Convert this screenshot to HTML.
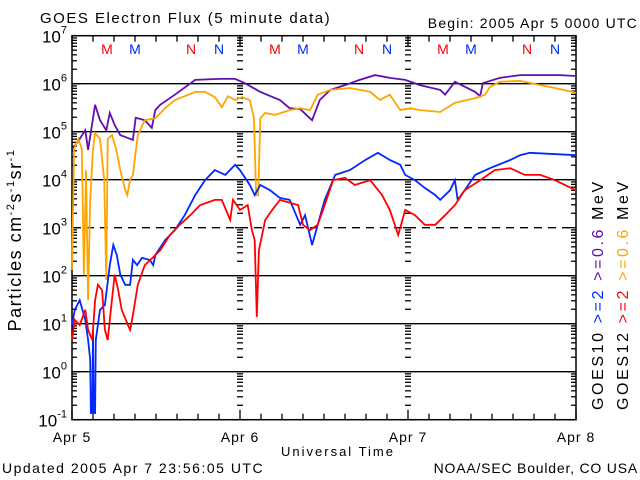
<!DOCTYPE html>
<html><head><meta charset="utf-8"><style>
body{margin:0;background:#fff}
svg{display:block;font-family:"Liberation Sans",sans-serif}
</style></head><body>
<svg id="c" width="640" height="480" viewBox="0 0 640 480">
<text x="40" y="23" font-size="15" letter-spacing="1.5">GOES Electron Flux (5 minute data)</text>
<text x="638" y="28" font-size="14" letter-spacing="1.2" text-anchor="end">Begin: 2005 Apr 5 0000 UTC</text>
<text x="338" y="456" font-size="13" letter-spacing="2" text-anchor="middle">Universal Time</text>
<text x="2" y="473" font-size="14" letter-spacing="1.5">Updated 2005 Apr  7 23:56:05 UTC</text>
<text x="638" y="473" font-size="14" letter-spacing="0.8" text-anchor="end">NOAA/SEC Boulder, CO USA</text>
<text transform="translate(21,240) rotate(-90)" font-size="18" letter-spacing="1.5" text-anchor="middle">Particles cm<tspan dy="-7" font-size="11">-2</tspan><tspan dy="7">s</tspan><tspan dy="-7" font-size="11">-1</tspan><tspan dy="7">sr</tspan><tspan dy="-7" font-size="11">-1</tspan></text>
<text transform="translate(603,410) rotate(-90)" font-size="16" letter-spacing="2.6">GOES10 <tspan fill="#0028ff">&gt;=2</tspan> <tspan fill="#6010b0">&gt;=0.6</tspan> MeV</text>
<text transform="translate(628,410) rotate(-90)" font-size="16" letter-spacing="2.6">GOES12 <tspan fill="#ff0000">&gt;=2</tspan> <tspan fill="#ffa500">&gt;=0.6</tspan> MeV</text>
<g id="axes"></g>
<g id="series"></g>
</svg>
<script>
const dayLabels=["Apr 5","Apr 6","Apr 7","Apr 8"];
const decades=[-1,0,1,2,3,4,5,6,7];
const markerLabels=["M","M","N","N"];
const markerHours=[5,9,17,21];
const g10LowT=[0.1,1.1,1.9,2.3,3.3,4.0,4.9,5.4,6.1,6.9,8.7,9.1,10.4,11.4,11.9,12.6,14.7,17.6,21.1,23.3,24.7,26.9,29.7,31.1,32.6,34.0,34.3,35.4,36.9,39.0,41.1,43.3,45.4,47.6,49.7,52.6,53.3,54.7,57.6,58.3,58.7,61.1,64.0,69.7,72];
const g10LowV=[4.64,4.85,5.03,4.62,5.56,5.24,5.03,5.39,5.14,4.93,4.83,5.29,5.24,5.08,5.45,5.56,5.77,6.08,6.10,6.10,6.01,5.83,5.66,5.49,5.47,5.28,5.24,5.66,5.87,5.97,6.08,6.18,6.12,6.08,5.97,5.87,5.77,6.04,5.83,5.74,6.01,6.12,6.18,6.18,6.16];
const g12LowT=[0,0.3,0.9,1.4,1.7,2.0,2.3,2.6,3.0,3.3,4.0,4.6,4.9,5.1,5.7,6.3,6.9,7.6,7.9,8.3,8.7,9.4,10.4,11.9,13.3,14.7,16.1,17.6,19.0,20.4,21.4,22.3,23.3,24.3,25.4,26.0,26.3,26.6,26.9,27.6,29.0,31.1,32.6,34.0,35.1,36.9,39.7,42.6,44.0,45.4,46.9,48.3,49.7,52.6,54.7,57.6,59.0,59.7,61.1,64.0,66.9,69.0,72];
const g12LowV=[2.12,4.64,4.85,4.64,2.02,4.20,1.49,3.58,4.64,4.97,4.85,4.0,1.91,4.85,4.93,4.64,4.20,3.79,3.68,4.0,4.10,4.93,5.24,5.28,5.49,5.66,5.74,5.83,5.83,5.72,5.51,5.74,5.66,5.72,5.66,5.28,3.68,3.68,5.28,5.39,5.35,5.45,5.49,5.45,5.77,5.87,5.91,5.83,5.66,5.77,5.45,5.49,5.45,5.41,5.60,5.70,5.77,5.93,6.04,6.06,5.97,5.91,5.81];
const g10HighT=[0,0.4,1.1,1.9,2.3,2.6,2.7,2.9,3.0,3.1,3.3,3.4,4.0,4.7,5.4,5.9,6.4,6.9,7.6,8.3,8.7,9.3,10.0,11.1,11.6,11.9,13.3,14.7,16.1,17.6,19.0,20.4,21.9,23.3,24.0,25.4,26.1,26.9,28.3,29.7,31.1,32.6,33.3,34.3,35.1,36.1,37.6,39.7,41.9,43.7,45.4,46.9,47.6,49.0,50.4,51.9,52.6,54.0,54.7,55.1,56.1,57.6,59.7,62.6,64.0,65.4,72];
const g10HighV=[0.97,1.29,1.49,1.08,0.66,0.25,-0.86,-0.86,0.87,-0.86,-0.86,0.66,1.29,1.39,2.22,2.64,2.43,2.02,1.81,1.81,2.33,2.22,2.37,2.33,2.22,2.43,2.74,2.95,3.26,3.68,3.99,4.20,4.10,4.31,4.20,3.89,3.68,3.89,3.78,3.62,3.58,3.06,3.26,2.64,3.06,3.58,4.10,4.20,4.41,4.56,4.41,4.31,4.10,3.99,3.83,3.68,3.58,3.78,3.99,3.58,3.78,4.10,4.24,4.41,4.51,4.56,4.51];
const g12HighT=[0,0.4,1.1,1.9,2.3,2.9,3.3,3.7,4.3,4.7,5.1,5.7,6.1,6.6,7.1,8.0,8.3,8.7,9.4,10.4,11.9,12.6,14.0,15.4,16.9,18.3,20.4,21.4,22.6,23.0,24.0,25.1,25.7,26.1,26.4,26.7,27.6,28.6,29.7,32.3,33.0,34.0,35.1,36.1,37.3,39.0,40.4,42.6,44.3,45.4,46.6,47.6,49.0,50.4,51.9,53.3,54.7,56.1,58.3,60.4,62.6,64.7,66.9,69.0,72];
const g12HighV=[0.66,1.08,0.97,1.29,0.87,0.66,1.49,1.81,1.70,0.87,0.66,1.49,2.02,1.70,1.29,0.97,0.87,1.18,1.81,2.22,2.43,2.53,2.85,3.06,3.26,3.47,3.58,3.58,3.16,3.58,3.37,3.47,2.95,2.74,1.14,2.53,3.16,3.37,3.58,3.47,3.06,2.95,3.06,3.47,3.99,4.04,3.89,3.99,3.68,3.37,2.85,3.37,3.26,3.06,3.06,3.26,3.47,3.78,3.99,4.20,4.24,4.10,4.10,3.99,3.78];

const L=72,R=576,T=35.7,B=419.7;
const xs=h=>L+h*(R-L)/72;
const ys=v=>T+(7-v)*(B-T)/8;
const NS="http://www.w3.org/2000/svg";
const ax=document.getElementById('axes'), se=document.getElementById('series');
function mk(tag,attrs,parent){const e=document.createElementNS(NS,tag);for(const k in attrs)e.setAttribute(k,attrs[k]);parent.appendChild(e);return e;}
function line(x1,y1,x2,y2,p,extra){return mk('line',Object.assign({x1,y1,x2,y2,stroke:'#000','stroke-width':1.3},extra||{}),p);}
const fr=mk('rect',{x:L,y:T,width:R-L,height:B-T,fill:'none',stroke:'#000','stroke-width':1.5},ax);


decades.forEach(d=>{
  const y=ys(d);
  if(d>-1&&d<7){
    const gl=line(L,y,R,y,ax,d===3?{'stroke-dasharray':'8,6'}:{});
    
    
  }
  const t=mk('text',{x:L-5,y:y+7,'font-size':17,'text-anchor':'end'},ax);
  
  
  t.innerHTML='10<tspan dy="-9" font-size="11">'+d+'</tspan>';
  line(L,y,L+9,y,ax);line(R-9,y,R,y,ax);
  if(d<7){for(let m=2;m<10;m++){const yy=ys(d+Math.log10(m));
    line(L,yy,L+5,yy,ax);line(R-5,yy,R,yy,ax);
    [1,2].forEach(k=>line(xs(24*k)-3,yy,xs(24*k)+3,yy,ax));}}
  [1,2].forEach(k=>line(xs(24*k)-5,y,xs(24*k)+5,y,ax));
});
for(let h=0;h<=72;h+=3){const x=xs(h),len=h%24===0?10:6;line(x,B,x,B-len,ax);line(x,T,x,T+len,ax);}
dayLabels.forEach((s,i)=>{const t=mk('text',{x:xs(24*i),y:442,'font-size':14,'letter-spacing':1,'text-anchor':'middle'},ax);
  
  
  t.textContent=s;});
const mcol=['#ff0000','#0028ff','#ff0000','#0028ff'];
for(let day=0;day<3;day++)markerLabels.forEach((s,i)=>{
  const t=mk('text',{x:xs(day*24+markerHours[i]),y:54,'font-size':14,'text-anchor':'middle',fill:mcol[i]},ax);
  
  
  t.textContent=s;});
function draw(T_,V_,col,name){
  const pts=T_.map((t,i)=>xs(t).toFixed(1)+','+ys(V_[i]).toFixed(1)).join(' ');
  const p=mk('polyline',{points:pts,fill:'none',stroke:col,'stroke-width':1.8,'stroke-linejoin':'miter'},se);
  
  
}
draw(g10LowT,g10LowV,'#6010b0','goes10-ge0.6mev-line');
draw(g12LowT,g12LowV,'#ffa500','goes12-ge0.6mev-line');
draw(g10HighT,g10HighV,'#0028ff','goes10-ge2mev-line');
draw(g12HighT,g12HighV,'#ff0000','goes12-ge2mev-line');
</script>
</body></html>
